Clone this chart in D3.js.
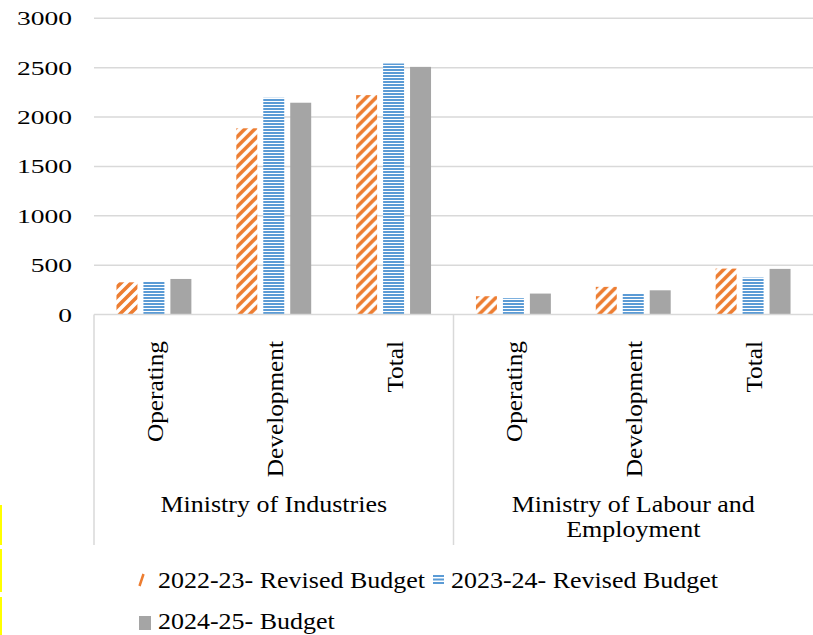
<!DOCTYPE html>
<html>
<head>
<meta charset="utf-8">
<script src="https://cdn.jsdelivr.net/npm/d3@7"></script>
<style>
  body { margin: 0; background: #ffffff; }
  svg text { font-family: "Liberation Serif", "DejaVu Serif", serif; fill: #000000; }
</style>
</head>
<body>
<svg id="chart" width="813" height="635"></svg>
<script>
// chart values
var ministries = ["Ministry of Industries", "Ministry of Labour and Employment"];
var categories = ["Operating", "Development", "Total"];
var seriesNames = ["2022-23- Revised Budget", "2023-24- Revised Budget", "2024-25- Budget"];
var budget2223 = [326, 1886, 2222, 185, 280, 465];
var budget2324 = [336, 2195, 2542, 165, 212, 374];
var budget2425 = [360, 2145, 2508, 212, 245, 462];
var yTicks = [0, 500, 1000, 1500, 2000, 2500, 3000];

var svg = d3.select("#chart");

var rows = [];
ministries.forEach(function(m, i) {
    categories.forEach(function(c, j) {
        var k = i * categories.length + j;
        rows.push({ key: k, ministry: m, cat: c, vals: [budget2223[k], budget2324[k], budget2425[k]] });
    });
});

var defs = svg.append("defs");

// orange wide upward diagonal
var pOr = defs.append("pattern").attr("id", "pOrange")
    .attr("patternUnits", "userSpaceOnUse").attr("width", 10).attr("height", 10);
pOr.append("rect").attr("width", 10).attr("height", 10).attr("fill", "#ffffff");
pOr.append("path").attr("d", "M-3,3 L3,-3 M0,10 L10,0 M7,13 L13,7")
    .attr("stroke", "#ed7d31").attr("stroke-width", 3.6);

// blue horizontal lines
var pBl = defs.append("pattern").attr("id", "pBlue")
    .attr("patternUnits", "userSpaceOnUse").attr("width", 4).attr("height", 3);
pBl.append("rect").attr("width", 4).attr("height", 3).attr("fill", "#ffffff");
pBl.append("rect").attr("y", 0).attr("width", 4).attr("height", 2).attr("fill", "#5b9bd5");

var fills = ["url(#pOrange)", "url(#pBlue)", "#a5a5a5"];

var y = d3.scaleLinear().domain([0, 3000]).range([314.5, 18.3]);

var x0 = d3.scaleBand().domain(rows.map(function(d) { return d.key; }))
    .range([94, 813]).paddingInner(0).paddingOuter(0);

var x1 = d3.scaleBand().domain([0, 1, 2])
    .range([0, x0.bandwidth()]).paddingInner(0.222).paddingOuter(0.833);

// gridlines
svg.append("g").selectAll("line").data(yTicks.filter(function(t) { return t > 0; }))
    .enter().append("line")
    .attr("x1", 94).attr("x2", 813)
    .attr("y1", function(d) { return y(d); }).attr("y2", function(d) { return y(d); })
    .attr("stroke", "#d9d9d9").attr("stroke-width", 1.5);

// y labels
var yAxis = d3.axisLeft(y).tickValues(yTicks).tickFormat(d3.format("d")).tickSize(0).tickPadding(0);
var yg = svg.append("g").attr("transform", "translate(72,0)").call(yAxis);
yg.select(".domain").remove();
yg.selectAll("text")
    .attr("x", null).attr("dy", null)
    .attr("transform", "scale(1.45,1)")
    .attr("y", 6.5)
    .style("font-size", "19px");

// bars
var groups = svg.append("g").selectAll("g").data(rows).enter().append("g")
    .attr("transform", function(d) { return "translate(" + x0(d.key) + ",0)"; });

groups.selectAll("rect").data(function(d) { return d.vals; }).enter().append("rect")
    .attr("x", function(d, i) { return x1(i); })
    .attr("width", x1.bandwidth())
    .attr("y", function(d) { return y(d); })
    .attr("height", function(d) { return y(0) - y(d); })
    .attr("fill", function(d, i) { return fills[i]; });

// category axis line and group separators
svg.append("line").attr("x1", 94).attr("x2", 813).attr("y1", y(0)).attr("y2", y(0))
    .attr("stroke", "#d9d9d9").attr("stroke-width", 1.5);

var sepX = [94, x0(3)];
svg.append("g").selectAll("line").data(sepX).enter().append("line")
    .attr("x1", function(d) { return d; }).attr("x2", function(d) { return d; })
    .attr("y1", y(0)).attr("y2", 545)
    .attr("stroke", "#d9d9d9").attr("stroke-width", 1.5);

// rotated category labels
svg.append("g").selectAll("text").data(rows).enter().append("text")
    .attr("transform", function(d) {
        return "translate(" + (x0(d.key) + x0.bandwidth() / 2 + 9) + ",341) rotate(-90) scale(1.1,1)";
    })
    .attr("text-anchor", "end")
    .style("font-size", "23px")
    .text(function(d) { return d.cat; });

// ministry labels
var mLines = [["Ministry of Industries"], ["Ministry of Labour and", "Employment"]];
mLines.forEach(function(lines, i) {
    var cx = (x0(i * 3) + x0(i * 3 + 2) + x0.bandwidth()) / 2;
    lines.forEach(function(t, j) {
        svg.append("text")
            .attr("transform", "translate(" + cx + "," + (512 + j * 25) + ") scale(1.13,1)")
            .attr("text-anchor", "middle")
            .style("font-size", "23px")
            .text(t);
    });
});

// legend
var legend = svg.append("g");
var legItems = [
    { x: 138, y: 588, i: 0 },
    { x: 432, y: 588, i: 1 },
    { x: 138, y: 629, i: 2 }
];
legItems.forEach(function(it) {
    var g = legend.append("g").attr("transform", "translate(" + it.x + "," + it.y + ")");
    if (it.i === 0) {
        g.append("path").attr("d", "M1.5,-2 L5.5,-14").attr("stroke", "#ed7d31").attr("stroke-width", 2.5);
    } else if (it.i === 1) {
        [-13, -9.5, -6].forEach(function(dy) {
            g.append("rect").attr("x", 1).attr("y", dy).attr("width", 11).attr("height", 2).attr("fill", "#5b9bd5");
        });
    } else {
        g.append("rect").attr("x", 1).attr("y", -13).attr("width", 12).attr("height", 14).attr("fill", "#a5a5a5");
    }
    g.append("text").attr("transform", "translate(" + (it.i === 1 ? 19 : 20) + ",0) scale(1.13,1)")
        .style("font-size", "23px")
        .text(seriesNames[it.i]);
});

// yellow marks on the left edge
[[505, 545], [549, 592], [597, 635]].forEach(function(s) {
    svg.append("rect").attr("x", 0).attr("y", s[0]).attr("width", 2).attr("height", s[1] - s[0]).attr("fill", "#ffff00");
});
</script>
</body>
</html>
